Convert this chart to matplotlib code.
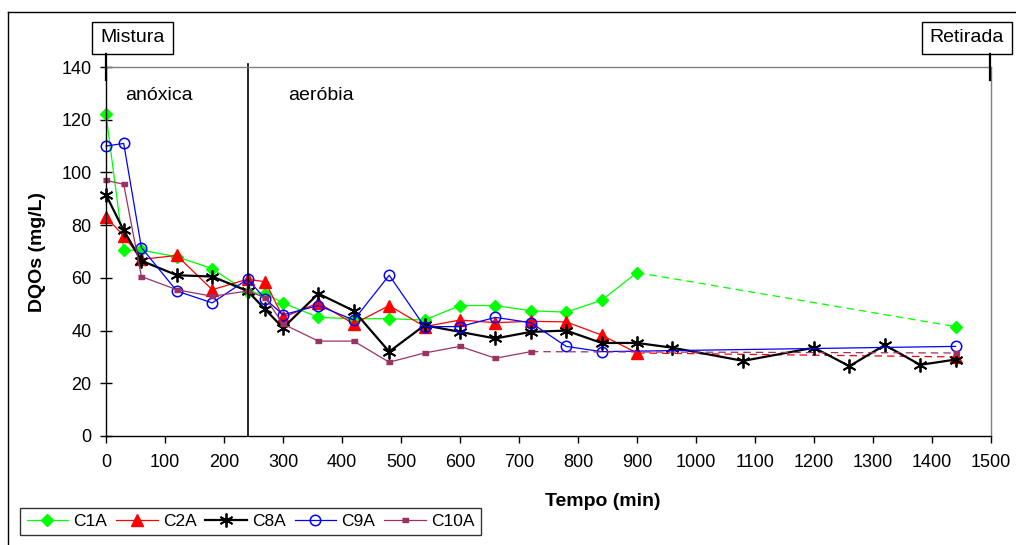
import matplotlib
matplotlib.use('Agg')
import matplotlib.pyplot as plt
from matplotlib.lines import Line2D
from matplotlib.patches import Rectangle

plt.rcParams['font.family'] = ['Liberation Sans', 'DejaVu Sans']

# ---------------- data ----------------
c1a_t = [0, 30, 60, 120, 180, 240, 270, 300, 360, 420, 480, 540, 600, 660, 720, 780, 840, 900, 1440]
c1a_v = [122, 70.5, 70.5, 68, 63.5, 54.5, 54, 50.5, 45, 44.5, 44.5, 44, 49.5, 49.5, 47.5, 47, 51.5, 62, 41.5]

c2a_t = [0, 30, 60, 120, 180, 240, 270, 300, 360, 420, 480, 540, 600, 660, 720, 780, 840, 900, 1440]
c2a_v = [83, 76, 67, 68.5, 55.5, 59.5, 58.5, 45, 50.5, 42.5, 49.5, 41.5, 44, 43, 43.5, 43.3, 38.3, 31.5, 30]

c8a_t = [0, 30, 60, 120, 180, 240, 270, 300, 360, 420, 480, 540, 600, 660, 720, 780, 840, 900,
         960, 1080, 1200, 1260, 1320, 1380, 1440]
c8a_v = [91.5, 78, 66.5, 61, 60.5, 55, 48, 41, 54, 47.5, 32, 42, 39.5, 37, 39.5, 40, 35.3, 35.3,
         33.5, 28.5, 33.5, 26.5, 34.5, 27, 29]

c9a_t = [0, 30, 60, 120, 180, 240, 270, 300, 360, 420, 480, 540, 600, 660, 720, 780, 840, 1440]
c9a_v = [110, 111, 71.5, 55, 50.5, 59.5, 52, 46, 49.5, 44, 61, 41.5, 41.5, 45, 43, 34, 32, 34]

c10a_t = [0, 30, 60, 120, 180, 240, 270, 300, 360, 420, 480, 540, 600, 660, 720, 1440]
c10a_v = [97, 95.5, 60.5, 55.5, 53, 55, 52.5, 42.5, 36, 36, 28, 31.5, 34, 29.5, 32, 31.5]

labels = ['C1A', 'C2A', 'C8A', 'C9A', 'C10A']
dashed_last = [True, True, False, False, True]   # last segment drawn dashed (gap in sampling)

x_ticks = list(range(0, 1501, 100))
y_ticks = list(range(0, 141, 20))

# ---------------- figure ----------------
W, H = 1016, 545
fig = plt.figure(figsize=(W / 100, H / 100), dpi=100)


def fx(px):
    return px / W


def fy(py):
    return 1 - py / H


ax = fig.add_axes([fx(106), fy(436), fx(991) - fx(106), fy(67) - fy(436)])

purple_marker = [(-1, -0.45), (1, -0.45), (1, 0.45), (-1, 0.45)]
styles = [
    dict(color='#00FF00', marker='D', ms=6, mfc='#00FF00', mec='#00FF00', lw=0.9),
    dict(color='#FF0000', marker='^', ms=9, mfc='#FF0000', mec='#FF0000', lw=0.9),
    dict(color='#000000', marker=(6, 2, 0), ms=10, mfc='#000000', mec='#000000', mew=1.3, lw=1.6),
    dict(color='#0000FF', marker='o', ms=7.5, mfc='none', mec='#0000FF', mew=1.1, lw=0.9),
    dict(color='#993366', marker=purple_marker, ms=5, mfc='#993366', mec='#993366', lw=0.9),
]
data = [(c1a_t, c1a_v), (c2a_t, c2a_v), (c8a_t, c8a_v), (c9a_t, c9a_v), (c10a_t, c10a_v)]

handles = []
for (t, v), st, lab, dl in zip(data, styles, labels, dashed_last):
    if dl:
        ax.plot(t[-2:], v[-2:], color=st['color'], lw=st['lw'], ls=(0, (6, 4)))
        h, = ax.plot(t[:-1], v[:-1], label=lab, **st)
        ax.plot(t[-1:], v[-1:], ls='none', **{k: val for k, val in st.items() if k not in ('lw',)})
    else:
        h, = ax.plot(t, v, label=lab, **st)
    h.set_clip_on(False)
    handles.append(h)

ax.set_xlim(0, 1500)
ax.set_ylim(0, 140)
ax.set_xticks(x_ticks)
ax.set_yticks(y_ticks)
ax.tick_params(axis='x', direction='out', length=5, width=1, labelsize=13, pad=8)
ax.tick_params(axis='y', direction='inout', length=9, width=1, labelsize=13, pad=6)
for s in ('top', 'right'):
    ax.spines[s].set_color('#808080')
for s in ('left', 'bottom'):
    ax.spines[s].set_color('black')
for s in ax.spines.values():
    s.set_linewidth(1)

# phase separator
ax.plot([240, 240], [0, 141], color='black', lw=1.2, clip_on=False)
ax.text(32, 129, 'anóxica', fontsize=14, va='center', ha='left')
ax.text(308, 129, 'aeróbia', fontsize=14, va='center', ha='left')

# axis labels
fig.text(fx(603), fy(502), 'Tempo (min)', fontsize=14, fontweight='bold', ha='center', va='center')
fig.text(fx(38), fy(252), 'DQOs (mg/L)', fontsize=14, fontweight='bold', ha='center', va='center',
         rotation=90)

# outer frame lines
fig.add_artist(Line2D([fx(8), 1], [fy(12), fy(12)], color='black', lw=1))
fig.add_artist(Line2D([fx(8), fx(8)], [fy(12), 0], color='black', lw=1))


def label_box(x0, x1, y0, y1, text, xline):
    fig.add_artist(Line2D([fx(xline), fx(xline)], [fy(y1), fy(80)], color='black', lw=1.6))
    fig.add_artist(Rectangle((fx(x0), fy(y1)), fx(x1) - fx(x0), fy(y0) - fy(y1),
                             transform=fig.transFigure, facecolor='white', edgecolor='black', lw=1))
    fig.text(fx((x0 + x1) / 2), fy((y0 + y1) / 2), text, fontsize=14, ha='center', va='center')


label_box(92, 173, 22, 54, 'Mistura', 106)
label_box(922, 1012, 22, 54, 'Retirada', 990)

leg = fig.legend(handles=handles, labels=labels, loc='center',
                 bbox_to_anchor=(fx(250.5), fy(521.5)), ncol=5, fontsize=12.5,
                 numpoints=1, handlelength=2.4, handletextpad=0.3, columnspacing=0.5,
                 borderpad=0.35, frameon=True, fancybox=False)
leg.get_frame().set_edgecolor('black')
leg.get_frame().set_linewidth(1)

fig.savefig('out.png', dpi=100)
